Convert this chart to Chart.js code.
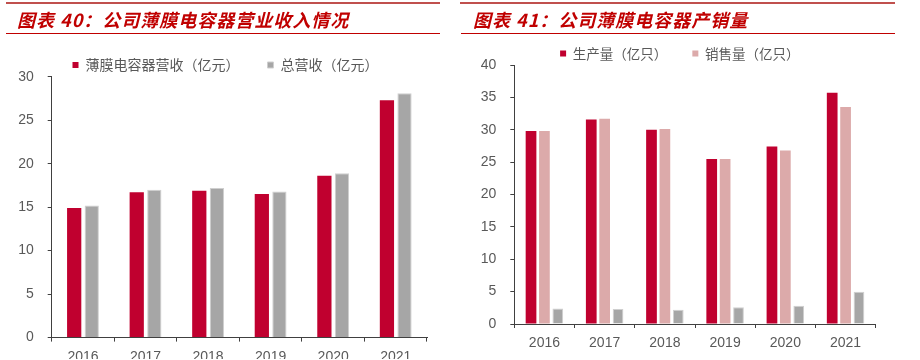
<!DOCTYPE html>
<html>
<head>
<meta charset="utf-8">
<script src="https://cdn.jsdelivr.net/npm/chart.js@4.4.1/dist/chart.umd.min.js"></script>
<style>
  body { margin: 0; width: 920px; height: 360px; overflow: hidden; background: #fff; position: relative; }
  .box { position: absolute; top: 0; width: 440px; height: 360px; }
  .title { position: absolute; top: 7px; font: italic bold 18px "Noto Sans CJK SC", sans-serif; color: #c00000; letter-spacing: 1px; line-height: 24px; white-space: nowrap; z-index: 2; }
  .topline { position: absolute; top: 2px; height: 2px; background: #c0504d; z-index: 2; }
  .underline { position: absolute; top: 32.5px; height: 1.5px; background: #c00000; z-index: 2; }
</style>
</head>
<body>
<div class="topline" style="left:6px;width:434px"></div>
<div class="title" style="left:17px">图表 40：公司薄膜电容器营业收入情况</div>
<div class="underline" style="left:6px;width:434px"></div>

<div class="topline" style="left:460px;width:435px"></div>
<div class="title" style="left:473px">图表 41：公司薄膜电容器产销量</div>
<div class="underline" style="left:461px;width:434px"></div>

<div class="box" style="left:0"><canvas id="leftChart" width="440" height="360"></canvas></div>
<div class="box" style="left:460px"><canvas id="rightChart" width="440" height="360"></canvas></div>

<script>
const years = ["2016", "2017", "2018", "2019", "2020", "2021"];

// 图表40 营收（亿元）
const filmRevenue = [14.9, 16.7, 16.9, 16.5, 18.6, 27.3];
const totalRevenue = [15.2, 17.0, 17.2, 16.8, 18.9, 28.1];
const leftTicks = [0, 5, 10, 15, 20, 25, 30];

// 图表41 产销量（亿只）
const production = [29.8, 31.6, 30.0, 25.5, 27.4, 35.7];
const sales = [29.8, 31.7, 30.1, 25.5, 26.8, 33.5];
const greySeries = [2.4, 2.3, 2.2, 2.6, 2.8, 5.0];
const rightTicks = [0, 5, 10, 15, 20, 25, 30, 35, 40];

const RED = "#c0002f";
const PINK = "#dcaaaa";
const GREY = "#a6a6a6";
const AXIS = "#404040";
const TEXT = "#595959";

// nudge the legend sideways, the reference has it a bit right of centre
const legendShift = (dx) => ({
  id: "legendShift",
  afterLayout(chart) {
    chart.legend.left += dx;
    chart.legend.right += dx;
  },
});

const makeOptions = (o) => ({
  responsive: false,
  animation: false,
  layout: { padding: { top: o.padTop, right: o.padRight, left: 0, bottom: 0 } },
  plugins: {
    tooltip: { enabled: false },
    legend: {
      position: "top",
      maxHeight: o.legendH,
      labels: {
        boxWidth: 6,
        boxHeight: 6,
        padding: o.legendPad,
        color: TEXT,
        font: { family: "'Noto Sans CJK SC'", size: o.legendSize },
        filter: (item) => item.text !== "",
      },
    },
  },
  scales: {
    x: {
      grid: { display: true, drawOnChartArea: false, drawTicks: true, tickLength: 4, color: AXIS, offset: true },
      border: { display: true, color: AXIS, width: 1 },
      ticks: { color: TEXT, padding: o.xPad, maxRotation: 0, font: { family: "'Liberation Sans'", size: 14 } },
      afterFit: (s) => { s.height = o.xH; },
    },
    y: {
      min: 0,
      max: o.ticks[o.ticks.length - 1],
      afterBuildTicks: (s) => { s.ticks = o.ticks.map((v) => ({ value: v })); },
      grid: { display: true, drawOnChartArea: false, drawTicks: true, tickLength: 4, color: AXIS },
      border: { display: true, color: AXIS, width: 1 },
      ticks: { color: TEXT, padding: 14, font: { family: "'Liberation Sans'", size: 14 } },
      afterFit: (s) => { s.width = o.yW; },
    },
  },
});

new Chart(document.getElementById("leftChart"), {
  type: "bar",
  data: {
    labels: years,
    datasets: [
      { label: "薄膜电容器营收（亿元）", data: filmRevenue, backgroundColor: RED, borderWidth: 0,
        categoryPercentage: 0.562, barPercentage: 0.81 },
      { label: "总营收（亿元）", data: totalRevenue, backgroundColor: GREY, borderColor: "#cfcfcf", borderWidth: 1,
        categoryPercentage: 0.562, barPercentage: 0.81 },
    ],
  },
  options: makeOptions({
    padTop: 30, padRight: 13, legendH: 46.7, legendPad: 28, legendSize: 14,
    xPad: 7, xH: 21.3, yW: 51.7, ticks: leftTicks,
  }),
  plugins: [legendShift(12)],
});

new Chart(document.getElementById("rightChart"), {
  type: "bar",
  data: {
    labels: years,
    datasets: [
      { label: "生产量（亿只）", data: production, backgroundColor: RED, borderWidth: 0,
        categoryPercentage: 0.667, barPercentage: 0.8 },
      { label: "销售量（亿只）", data: sales, backgroundColor: PINK, borderWidth: 0,
        categoryPercentage: 0.667, barPercentage: 0.8 },
      { label: "", data: greySeries, backgroundColor: GREY, borderColor: "#cfcfcf", borderWidth: 1,
        categoryPercentage: 0.667, barPercentage: 0.8 },
    ],
  },
  options: makeOptions({
    padTop: 21.8, padRight: 24.3, legendH: 43.2, legendPad: 25, legendSize: 13.5,
    xPad: 6.7, xH: 36, yW: 54.3, ticks: rightTicks,
  }),
  plugins: [legendShift(12)],
});
</script>
</body>
</html>
